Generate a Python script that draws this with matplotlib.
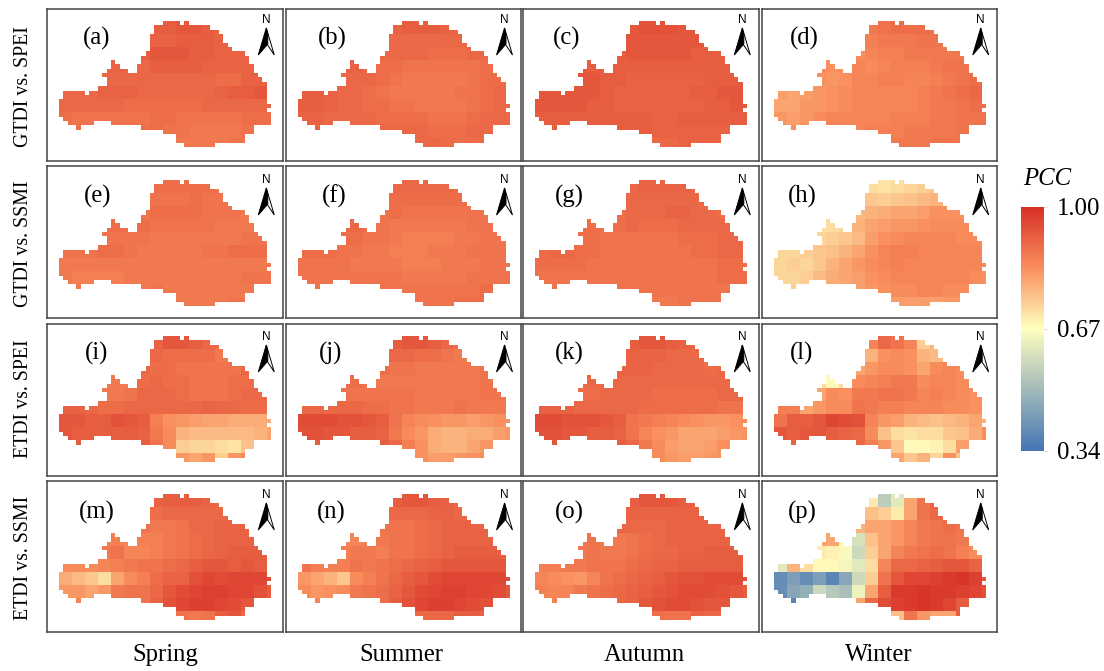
import numpy as np
import matplotlib
matplotlib.use('Agg')
import matplotlib.pyplot as plt
from matplotlib.colors import LinearSegmentedColormap, Normalize
from matplotlib.cm import ScalarMappable

plt.rcParams['font.family'] = ['Liberation Serif', 'DejaVu Serif']

W, H = 1104, 671

season_labels = ['Spring', 'Summer', 'Autumn', 'Winter']
row_labels = ['GTDI vs. SPEI', 'GTDI vs. SSMI', 'ETDI vs. SPEI', 'ETDI vs. SSMI']
panel_letters = ['(a)', '(b)', '(c)', '(d)', '(e)', '(f)', '(g)', '(h)',
                 '(i)', '(j)', '(k)', '(l)', '(m)', '(n)', '(o)', '(p)']
cbar_ticks = [0.34, 0.67, 1.00]

# outline of the basin: column spans per grid row (49 columns x 29 rows)
basin_spans = [
    [(24, 28), (29, 30)], [(22, 35)], [(22, 37)], [(21, 38)], [(21, 38)], [(21, 39)],
    [(21, 40)], [(20, 43)], [(19, 44)], [(12, 13), (19, 44)], [(12, 14), (18, 45)],
    [(11, 16), (18, 45)], [(10, 46)], [(11, 47)], [(11, 48)], [(9, 48)],
    [(1, 6), (7, 48)], [(1, 48)], [(0, 48)], [(0, 49)], [(0, 48)], [(0, 49)], [(1, 49)],
    [(2, 8), (12, 49)], [(4, 5), (19, 45)], [(24, 45)], [(27, 43)], [(27, 43)], [(29, 36)],
]

# PCC x 100, one value per 3x3 block of grid cells
# each row starts at block column block_start[row]
block_start = [7, 7, 6, 3, 3, 0, 0, 0, 1, 9]

pcc_a = [[92,92,93,93,92,91],[91,91,92,92,92,91],[92,93,93,93,92,92,91,91,91],
         [91,91,90,90,92,92,92,92,91,91,91,91],[90,90,90,90,90,90,90,90,90,89,89,91,91],
         [90,90,90,91,91,91,90,90,90,90,90,90,91,92,92,93],[90,90,90,90,90,89,89,89,89,89,89,90,90,90,90,90,90],
         [89,88,88,88,88,88,88,89,89,88,88,88,88,88,89,89,89],[89,89,89,89,89,89,89,88,88,87,87,87,87,88],[87,87,87,87,88,88]]
pcc_b = [[91,92,92,92,91,90],[90,90,90,90,90,90],[90,90,90,90,89,89,89,90,90],
         [91,91,90,89,89,88,88,88,88,88,88,89],[90,90,90,89,88,87,87,87,87,87,88,89,89],
         [92,92,91,90,90,89,88,87,87,87,87,87,88,88,89,90],[92,92,91,90,90,89,89,88,88,87,87,87,87,88,89,90,90],
         [91,91,90,90,90,90,89,89,89,89,88,88,88,89,90,90,90],[91,91,91,90,90,90,90,90,90,89,89,89,90,90],[90,90,89,89,89,90]]
pcc_c = [[93,94,94,94,93,93],[93,93,93,93,93,93],[92,93,93,93,93,93,92,92,92],
         [93,92,92,92,92,92,92,92,92,92,92,92],[93,93,92,92,91,91,91,91,91,91,92,92,92],
         [93,93,93,93,93,92,91,91,91,91,91,91,92,92,93,93],[93,93,93,93,92,92,91,91,91,91,91,91,91,92,92,93,93],
         [92,92,92,92,92,92,92,92,92,91,91,92,92,92,92,92,92],[92,92,92,92,92,92,92,92,91,91,91,91,91,91],[90,90,91,91,91,91]]
pcc_d = [[87,88,89,89,89,88],[86,87,87,87,88,88],[84,85,86,86,87,87,87,87,87],
         [84,83,83,85,84,85,86,86,86,87,88,88],[83,82,83,85,85,86,86,85,85,86,87,88,89],
         [81,80,81,82,83,84,85,85,85,85,85,86,87,88,89,90],[80,80,82,82,83,84,85,85,85,85,85,86,87,87,88,89,89],
         [82,81,82,84,85,85,85,85,85,86,86,86,87,87,88,88,88],[83,83,84,85,85,85,86,86,86,87,87,87,87,88],[87,87,87,88,88,88]]
pcc_e = [[89,89,89,89,89,88],[88,88,88,89,88,88],[88,89,89,89,89,88,88,88,87],
         [89,89,89,89,88,88,88,88,88,87,87,87],[88,88,88,88,87,87,87,87,87,87,87,88,88],
         [88,88,88,89,89,88,87,87,87,87,87,88,88,89,89,89],[87,87,87,87,87,87,87,87,87,87,87,87,87,87,87,87,87],
         [87,86,86,86,86,87,87,87,87,87,87,87,87,87,88,88,88],[87,87,87,87,87,87,88,87,87,87,87,87,87,87],[87,87,87,87,88,88]]
pcc_f = [[90,90,90,90,90,89],[89,89,89,89,89,89],[88,89,88,88,88,88,88,88,88],
         [90,90,89,88,87,87,87,87,87,87,88,88],[89,89,88,88,87,86,86,86,86,87,87,88,88],
         [89,89,89,88,88,87,87,86,86,86,87,87,87,88,88,88],[88,88,88,88,87,87,87,87,86,86,86,87,87,87,88,88,88],
         [88,88,88,88,88,88,88,88,87,87,87,87,87,88,88,88,88],[88,88,88,88,88,88,88,88,88,88,88,88,88,89],[88,88,88,89,89,89]]
pcc_g = [[90,91,91,91,91,90],[90,90,90,90,90,90],[89,90,90,90,91,91,90,90,89],
         [89,89,89,89,90,89,89,89,90,90,90,90],[89,89,88,88,88,88,88,88,89,89,89,90,90],
         [89,90,90,89,89,88,88,88,88,88,88,88,89,89,90,90],[89,89,89,89,88,88,88,88,88,88,88,88,88,88,89,89,89],
         [88,88,88,88,88,88,88,88,88,88,88,88,88,88,89,89,89],[88,88,88,88,88,88,88,88,88,88,88,88,88,88],[87,87,88,88,88,88]]
pcc_h = [[72,71,72,73,74,75],[75,74,75,76,77,78],[77,78,79,80,80,81,83,83,83],
         [72,72,73,78,80,81,82,82,83,84,84,84],[73,74,75,77,81,83,84,85,85,85,85,84,84],
         [73,73,74,75,76,78,80,83,85,86,86,85,85,85,85,85],[73,74,73,75,78,80,82,84,85,86,85,85,85,85,85,85,84],
         [73,73,74,77,79,80,81,83,84,85,85,85,85,85,85,84,83],[74,76,77,79,80,81,82,83,84,84,85,85,84,84],[81,81,81,81,82,82]]
pcc_i = [[91,93,93,92,90,89],[90,89,89,89,89,87],[90,89,89,88,88,88,88,88,90],
         [87,87,87,89,90,89,89,88,88,88,89,89],[87,87,88,90,90,90,89,88,88,88,89,90,90],
         [91,91,90,89,89,90,90,90,90,90,90,91,90,90,89,89],[93,93,92,92,94,93,92,86,83,82,81,80,80,79,79,79,79],
         [93,92,92,92,92,92,91,87,84,78,77,77,77,77,77,78,80],[92,92,92,92,92,92,88,84,74,73,73,72,71,76],[82,80,82,74,82,84]]
pcc_j = [[92,93,93,92,90,89],[90,90,89,89,88,87],[89,88,88,87,87,87,87,87,88],
         [89,89,88,87,87,87,87,87,87,87,87,88],[88,88,88,88,88,88,87,87,87,87,87,88,88],
         [90,90,90,90,90,89,89,88,88,87,87,87,88,87,87,87],[95,95,95,94,94,93,92,88,85,84,83,82,82,81,82,83,83],
         [94,94,93,93,92,92,91,87,84,82,79,78,78,79,79,81,82],[92,92,92,92,92,92,90,86,83,79,78,78,80,82],[83,81,81,82,83,84]]
pcc_k = [[92,93,93,92,91,91],[91,91,91,90,90,90],[91,91,91,90,90,90,90,89,90],
         [90,90,90,90,90,90,90,90,90,90,90,90],[89,89,90,90,90,90,89,89,89,89,89,90,90],
         [91,91,91,90,90,90,90,90,89,89,89,89,89,89,88,88],[95,95,94,94,94,93,92,88,87,86,85,84,83,82,82,83,84],
         [94,94,93,93,92,92,91,88,85,83,82,80,80,80,81,82,83],[93,92,92,92,92,92,90,87,84,81,80,80,81,83],[84,82,81,81,82,83]]
pcc_l = [[85,90,88,85,74,78],[78,83,84,83,78,77],[80,82,84,84,83,80,84,85,84],
         [72,68,72,84,85,86,87,87,84,85,85,84],[80,84,83,87,87,88,88,87,85,86,85,84,83],
         [86,86,80,82,84,84,88,87,86,86,85,85,85,84,84,83],[88,92,92,93,96,95,94,85,82,81,78,77,76,77,78,80,78],
         [93,92,93,93,92,91,90,84,76,72,71,72,72,75,76,79,84],[91,90,90,90,90,90,86,82,75,68,68,69,72,81],[80,75,78,73,83,76]]
pcc_m = [[91,92,92,92,91,90],[89,90,90,90,90,90],[88,87,87,88,90,90,91,91,91],
         [86,86,85,86,86,87,88,89,90,91,91,91],[87,88,85,85,86,87,88,89,90,91,92,92,92],
         [84,84,84,85,86,87,88,88,89,90,92,93,93,92,93,92],[79,77,75,72,80,84,86,89,91,91,94,96,95,96,96,96,95],
         [82,82,80,82,87,88,88,90,93,95,96,97,97,96,96,94,92],[85,85,85,85,85,88,91,94,96,97,97,96,95,93],[88,87,88,92,93,90]]
pcc_n = [[92,93,93,92,91,90],[90,90,90,91,91,90],[88,88,88,89,90,91,91,91,91],
         [85,85,86,87,88,88,89,90,91,91,91,91],[86,87,87,86,88,88,89,90,91,92,92,92,92],
         [88,86,86,86,88,87,88,89,90,91,92,93,93,93,93,93],[82,80,78,75,84,86,88,90,92,93,95,96,96,96,96,96,95],
         [84,82,83,84,87,88,89,91,93,95,96,97,97,96,96,95,93],[85,85,85,85,87,89,92,94,96,97,97,96,95,94],[90,90,90,92,92,91]]
pcc_o = [[92,93,93,93,92,91],[91,91,91,91,91,91],[90,90,90,90,91,91,91,91,91],
         [88,88,87,87,88,89,90,91,91,91,91,91],[87,88,87,87,88,89,90,90,91,91,92,92,92],
         [86,86,87,87,88,88,88,89,90,91,91,92,92,92,92,92],[85,84,83,82,85,88,89,90,91,92,93,94,94,95,95,95,94],
         [86,85,85,87,88,89,90,91,92,93,94,95,95,95,94,93,92],[86,86,86,86,88,90,91,93,94,95,95,94,93,93],[89,88,88,91,90,90]]
pcc_p = [[70,55,62,80,88,91],[76,74,70,80,88,90],[78,80,80,82,85,87,88,89,88],
         [80,80,68,60,76,80,82,85,87,88,88,87],[70,69,66,58,74,80,85,87,88,89,88,86,84],
         [62,78,72,68,68,65,62,72,85,90,90,91,92,93,93,91],[40,44,40,44,38,46,58,74,88,93,96,96,97,98,99,97,93],
         [40,46,48,58,54,52,64,80,92,98,98,99,98,98,97,96,94],[38,60,60,60,60,80,90,95,97,98,99,98,96,92],[76,88,82,80,80,92]]

panels = [pcc_a, pcc_b, pcc_c, pcc_d, pcc_e, pcc_f, pcc_g, pcc_h,
          pcc_i, pcc_j, pcc_k, pcc_l, pcc_m, pcc_n, pcc_o, pcc_p]

# panel boxes in image pixels
col_lefts = [47.3, 285.5, 523.3, 761.7]
box_width = 235.2
row_tops = [8.7, 165.7, 324.0, 480.7]
row_bottoms = [160.7, 318.0, 475.7, 632.0]
map_tops = [21.7, 180.0, 336.7, 494.0]
north_y = [20, 180, 337, 495]
letter_x = [[97, 332, 567, 804], [98, 334, 569, 802], [97, 331, 569, 802], [97, 331, 569, 802]]
letter_y = [38, 196, 353, 512]

cmap = LinearSegmentedColormap.from_list('pcc', [
    (0.0, '#4575b4'),
    (0.5, '#ffffbf'),
    (0.75, '#f98e5c'),
    (1.0, '#d73027'),
])
norm = Normalize(0.34, 1.0)


def basin_mask():
    mask = np.zeros((29, 49), dtype=bool)
    for r, spans in enumerate(basin_spans):
        for a, b in spans:
            mask[r, a:b] = True
    return mask


def panel_grid(rows):
    grid = np.full((10, 17), np.nan)
    for r, vals in enumerate(rows):
        s = block_start[r]
        grid[r, s:s + len(vals)] = vals
    fine = np.repeat(np.repeat(grid, 3, axis=0), 3, axis=1)[:29, :49]
    return np.ma.masked_where(~basin_mask(), fine / 100)


def north_arrow(ax, cx, ny):
    ax.text(cx, ny, 'N', family='Liberation Sans', fontsize=8.5, ha='center', va='center')
    top, bot = ny + 8, ny + 35
    ax.fill([cx, cx + 8, cx], [top, bot, bot - 12], fc='white', ec='black', lw=0.7)
    ax.fill([cx, cx - 8, cx + 1.5, cx + 1.5], [top, bot, bot - 11, top + 6], fc='black', ec='black', lw=0.7)


fig = plt.figure(figsize=(W / 100, H / 100), dpi=100)

for i in range(4):
    for j in range(4):
        left = col_lefts[j]
        top, bottom = row_tops[i], row_bottoms[i]
        ax = fig.add_axes([left / W, 1 - bottom / H, box_width / W, (bottom - top) / H])
        x0 = left + 12
        y0 = map_tops[i]
        ax.imshow(panel_grid(panels[i * 4 + j]), cmap=cmap, norm=norm, interpolation='nearest',
                  extent=(x0, x0 + 211.7, y0 + 125.7, y0), aspect='auto')
        ax.set_xlim(left, left + box_width)
        ax.set_ylim(bottom, top)
        ax.set_xticks([])
        ax.set_yticks([])
        for s in ax.spines.values():
            s.set_color('#444444')
            s.set_linewidth(1.1)
        ax.text(letter_x[i][j], letter_y[i], panel_letters[i * 4 + j], fontsize=17.8, ha='center', va='center')
        north_arrow(ax, left + 219, north_y[i])

# row and column titles
for y, lab in zip([87, 244, 399, 558], row_labels):
    fig.text(24 / W, 1 - y / H, lab, rotation=90, fontsize=14.3, ha='center', va='center')
for x, lab in zip([165, 401, 644, 879], season_labels):
    fig.text(x / W, 1 - 655 / H, lab, fontsize=17.8, ha='center', va='center')

# colour bar
cax = fig.add_axes([1020.7 / W, 1 - 450.7 / H, 23.6 / W, 244 / H])
cb = fig.colorbar(ScalarMappable(norm=norm, cmap=cmap), cax=cax, ticks=cbar_ticks)
cb.ax.set_yticklabels(['%.2f' % t for t in cbar_ticks], fontsize=17.8)
cb.ax.tick_params(length=2, color='#dddddd', pad=7)
cb.outline.set_visible(False)
fig.text(1023 / W, 1 - 179 / H, 'PCC', style='italic', fontsize=17.8, ha='left', va='center')

fig.savefig('out.png', dpi=100)
